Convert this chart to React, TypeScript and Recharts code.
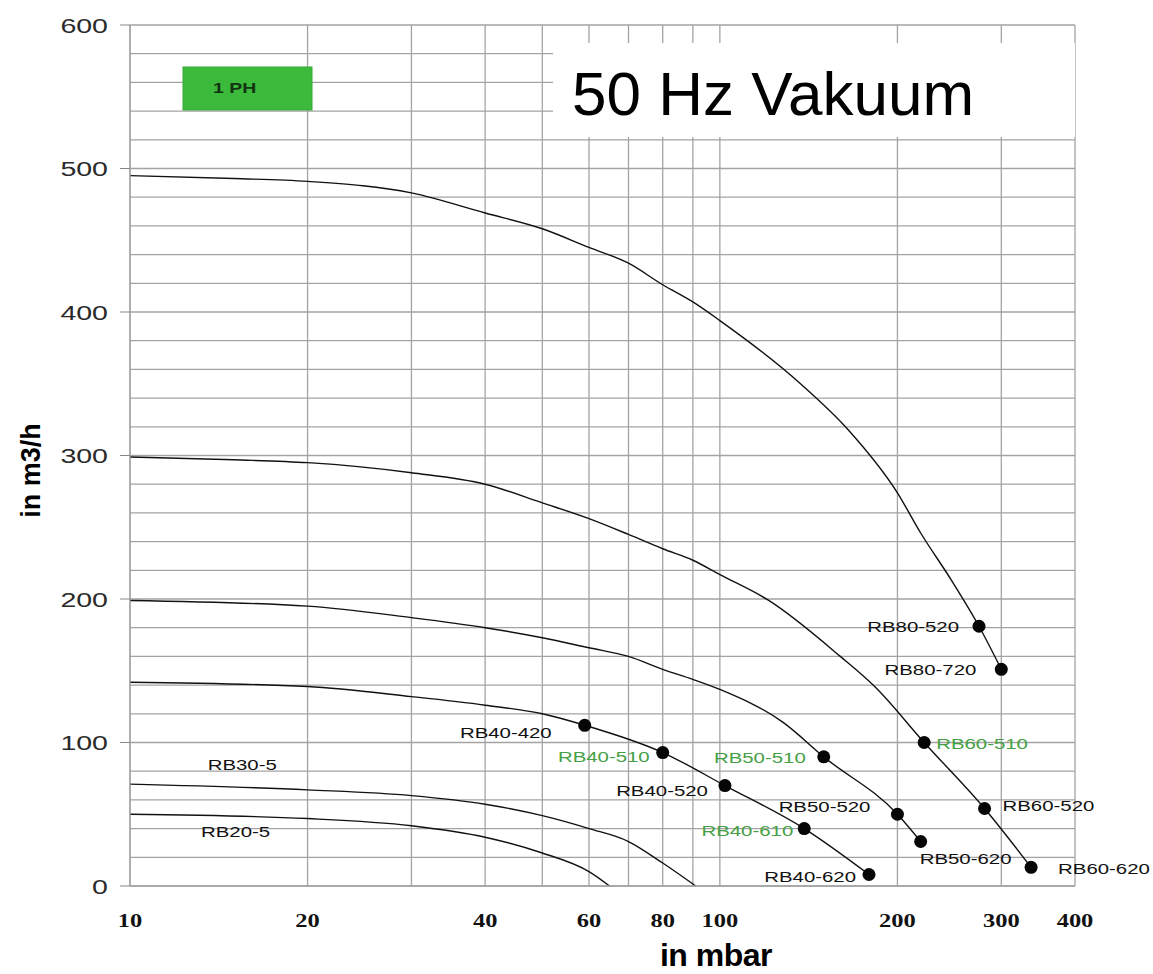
import React from 'react';
import { ComposedChart, Line, Scatter, XAxis, YAxis, CartesianGrid, Label } from 'recharts';

// pressure (mbar, log axis) vs. volume flow (m3/h)
const xTicks = [10, 20, 30, 40, 50, 60, 70, 80, 90, 100, 200, 300, 400];
const xLabelled = [10, 20, 40, 60, 80, 100, 200, 300, 400];
const yTicks = [0, 20, 40, 60, 80, 100, 120, 140, 160, 180, 200, 220, 240, 260, 280, 300, 320, 340, 360, 380, 400, 420, 440, 460, 480, 500, 520, 540, 560, 580, 600];
const yLabelled = [0, 100, 200, 300, 400, 500, 600];

type Pt = { p: number; q: number };
type Model = Pt & { name: string };

const rb80Curve: Pt[] = [
  { p: 10, q: 495 }, { p: 15, q: 493 }, { p: 20, q: 491 }, { p: 30, q: 483 }, { p: 40, q: 469 },
  { p: 50, q: 458 }, { p: 60, q: 445 }, { p: 70, q: 434 }, { p: 80, q: 419 }, { p: 90, q: 407 },
  { p: 100, q: 394 }, { p: 137, q: 350 }, { p: 165, q: 318 }, { p: 200, q: 274 }, { p: 219, q: 246 },
  { p: 247, q: 213 },
];
const rb80Models: Model[] = [
  { name: 'RB80-520', p: 275, q: 181 },
  { name: 'RB80-720', p: 300, q: 151 },
];

const rb60Curve: Pt[] = [
  { p: 10, q: 299 }, { p: 15, q: 297 }, { p: 20, q: 295 }, { p: 30, q: 288 }, { p: 40, q: 280 },
  { p: 50, q: 267 }, { p: 60, q: 256 }, { p: 70, q: 245 }, { p: 80, q: 235 }, { p: 90, q: 227 },
  { p: 100, q: 217 }, { p: 121, q: 199 }, { p: 160, q: 160 }, { p: 183, q: 139 },
];
const rb60Models: Model[] = [
  { name: 'RB60-510', p: 222, q: 100 },
  { name: 'RB60-520', p: 281, q: 54 },
  { name: 'RB60-620', p: 337, q: 13 },
];

const rb50Curve: Pt[] = [
  { p: 10, q: 199 }, { p: 20, q: 195 }, { p: 30, q: 187 }, { p: 40, q: 180 }, { p: 50, q: 173 },
  { p: 60, q: 166 }, { p: 70, q: 160 }, { p: 80, q: 151 }, { p: 90, q: 144 }, { p: 100, q: 137 },
  { p: 128, q: 114 },
];
const rb50Models: Model[] = [
  { name: 'RB50-510', p: 150, q: 90 },
  { name: 'RB50-520', p: 200, q: 50 },
  { name: 'RB50-620', p: 219, q: 31 },
];

const rb40Curve: Pt[] = [
  { p: 10, q: 142 }, { p: 20, q: 139 }, { p: 30, q: 132 }, { p: 40, q: 126 }, { p: 50, q: 120 },
];
const rb40Models: Model[] = [
  { name: 'RB40-420', p: 59, q: 112 },
  { name: 'RB40-510', p: 80, q: 93 },
  { name: 'RB40-520', p: 102, q: 70 },
  { name: 'RB40-610', p: 139, q: 40 },
  { name: 'RB40-620', p: 179, q: 8 },
];

const rb30Curve: Pt[] = [
  { p: 10, q: 71 }, { p: 20, q: 67 }, { p: 30, q: 63 }, { p: 40, q: 57 }, { p: 50, q: 49 },
  { p: 60, q: 40 }, { p: 70, q: 31 }, { p: 80, q: 16 }, { p: 91, q: 0 },
];
const rb20Curve: Pt[] = [
  { p: 10, q: 50 }, { p: 20, q: 47 }, { p: 30, q: 42 }, { p: 40, q: 34 }, { p: 50, q: 23 },
  { p: 60, q: 10 }, { p: 65, q: 0 },
];

const curveNames: Model[] = [
  { name: 'RB30-5', p: 15.5, q: 85 },
  { name: 'RB20-5', p: 15.1, q: 38 },
];

const greenNames = ['RB40-510', 'RB50-510', 'RB40-610', 'RB60-510'];

// label offset from the dot: dx, dy, anchor
const labelPlace: Record<string, [number, number, 'start' | 'end']> = {
  'RB80-520': [-20, 0, 'end'],
  'RB80-720': [-25, 0, 'end'],
  'RB60-510': [12, 1, 'start'],
  'RB60-520': [18, -3, 'start'],
  'RB60-620': [27, 1, 'start'],
  'RB50-510': [-18, 1, 'end'],
  'RB50-520': [-27, -8, 'end'],
  'RB50-620': [-1, 17, 'start'],
  'RB40-420': [-33, 7, 'end'],
  'RB40-510': [-13, 4, 'end'],
  'RB40-520': [-17, 5, 'end'],
  'RB40-610': [-11, 2, 'end'],
  'RB40-620': [-13, 2, 'end'],
};

const GRID = '#a3a3a3';
const GREEN = '#45a045';
const STRETCH = 'scale(1.36,1)';

const merge = (a: Pt[], b: Pt[]) => [...a, ...b].sort((m, n) => m.p - n.p);

function ModelDot(props: any) {
  const { cx, cy, payload } = props;
  const [dx, dy, anchor] = labelPlace[payload.name];
  const fill = greenNames.includes(payload.name) ? GREEN : '#111';
  return (
    <g>
      <circle cx={cx} cy={cy} r={6.5} fill="#060606" />
      <g transform={`translate(${cx + dx},${cy + dy + 5.5})`}>
        <text transform={STRETCH} textAnchor={anchor} fontSize={15} fill={fill}>
          {payload.name}
        </text>
      </g>
    </g>
  );
}

function CurveName(props: any) {
  const { cx, cy, payload } = props;
  return (
    <g transform={`translate(${cx},${cy + 5.5})`}>
      <text transform={STRETCH} textAnchor="middle" fontSize={15} fill="#111">
        {payload.name}
      </text>
    </g>
  );
}

function XTick(props: any) {
  const { x, y, payload } = props;
  if (!xLabelled.includes(payload.value)) return <g />;
  return (
    <g transform={`translate(${x},${y + 41})`}>
      <text transform={STRETCH} textAnchor="middle" fontFamily="Liberation Serif" fontWeight="bold" fontSize={18} fill="#111">
        {payload.value}
      </text>
    </g>
  );
}

function YTick(props: any) {
  const { x, y, payload } = props;
  if (!yLabelled.includes(payload.value)) return <g />;
  return (
    <g>
      <line x1={x - 10} x2={x} y1={y} y2={y} stroke="#888" />
      <g transform={`translate(${x - 22},${y + 7.5})`}>
        <text transform={STRETCH} textAnchor="end" fontSize={21} fill="#2a2a2a">
          {payload.value}
        </text>
      </g>
    </g>
  );
}

export default function App() {
  return (
    <div style={{ position: 'absolute', left: 0, top: 0, width: 1153, height: 974, background: '#fff', fontFamily: 'Liberation Sans, Arial, sans-serif' }}>
      <ComposedChart width={1153} height={974} margin={{ top: 25, right: 78, bottom: 0, left: 0 }}>
        <CartesianGrid stroke={GRID} strokeWidth={1.3} />
        <XAxis
          dataKey="p"
          type="number"
          scale="log"
          domain={[10, 400]}
          ticks={xTicks}
          interval={0}
          height={88}
          tickSize={0}
          tickMargin={0}
          tick={<XTick />}
          axisLine={{ stroke: GRID, strokeWidth: 1.3 }}
        >
          <Label
            content={(p: any) => (
              <text x={716} y={p.viewBox.y + 80} textAnchor="middle" fontSize={32} fontWeight="bold" letterSpacing={-0.5} fill="#000">
                in mbar
              </text>
            )}
          />
        </XAxis>
        <YAxis
          dataKey="q"
          type="number"
          domain={[0, 600]}
          ticks={yTicks}
          interval={0}
          width={130}
          tickSize={0}
          tickMargin={0}
          tick={<YTick />}
          axisLine={{ stroke: GRID, strokeWidth: 1.3 }}
        >
          <Label
            content={(p: any) => {
              const cy = p.viewBox.y + p.viewBox.height / 2 + 15;
              return (
                <text x={40} y={cy} transform={`rotate(-90 40 ${cy})`} textAnchor="middle" fontSize={27} fontWeight="bold" fill="#000">
                  in m3/h
                </text>
              );
            }}
          />
        </YAxis>
        <Line data={merge(rb80Curve, rb80Models)} dataKey="q" type="monotone" stroke="#111" strokeWidth={1.4} dot={false} isAnimationActive={false} />
        <Line data={merge(rb60Curve, rb60Models)} dataKey="q" type="monotone" stroke="#111" strokeWidth={1.4} dot={false} isAnimationActive={false} />
        <Line data={merge(rb50Curve, rb50Models)} dataKey="q" type="monotone" stroke="#111" strokeWidth={1.4} dot={false} isAnimationActive={false} />
        <Line data={merge(rb40Curve, rb40Models)} dataKey="q" type="monotone" stroke="#111" strokeWidth={1.4} dot={false} isAnimationActive={false} />
        <Line data={rb30Curve} dataKey="q" type="monotone" stroke="#111" strokeWidth={1.4} dot={false} isAnimationActive={false} />
        <Line data={rb20Curve} dataKey="q" type="monotone" stroke="#111" strokeWidth={1.4} dot={false} isAnimationActive={false} />
        <Scatter data={[...rb80Models, ...rb60Models, ...rb50Models, ...rb40Models]} dataKey="q" shape={<ModelDot />} isAnimationActive={false} />
        <Scatter data={curveNames} dataKey="q" shape={<CurveName />} isAnimationActive={false} />
      </ComposedChart>
      <svg width={1153} height={974} style={{ position: 'absolute', left: 0, top: 0, pointerEvents: 'none' }}>
        <rect x={553} y={43} width={522} height={94} fill="#fff" />
        <text x={572} y={115} fontSize={62} fill="#000">50 Hz Vakuum</text>
        <rect x={183} y={67} width={129} height={43} fill="#3cba3c" stroke="#39a839" />
        <g transform="translate(213,93)">
          <text transform="scale(1.3,1)" fontSize={15} fontWeight="bold" fill="#123312">1 PH</text>
        </g>
      </svg>
    </div>
  );
}
